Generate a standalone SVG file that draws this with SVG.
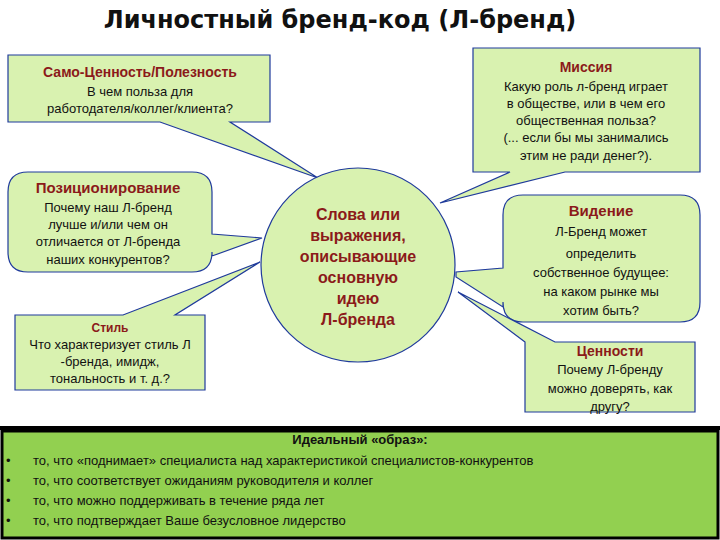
<svg xmlns="http://www.w3.org/2000/svg" width="720" height="540" viewBox="0 0 720 540">
<style>
.b{fill:#d9f2b0;stroke:#1f3a9c;stroke-width:1.2}
text{font-family:"Liberation Sans",Arial,sans-serif;fill:#111;text-anchor:middle}
.t{font-size:13px}
.h{font-weight:bold;fill:#8b1a1a;font-size:14px}
.c{font-weight:bold;fill:#8b1a1a;font-size:16px}
.l{text-anchor:start;font-size:13px}
</style>
<rect width="720" height="540" fill="#fff"/>
<text x="340" y="28" style="font-size:24px;font-weight:bold;font-family:'DejaVu Sans',sans-serif">Личностный бренд-код (Л-бренд)</text>
<g id="connectors"></g>
<g id="samo">
<path class="b" d="M8,55H270V122H230L318,178L160,122H8Z"/>
<text class="h" x="140" y="77">Само-Ценность/Полезность</text>
<text class="t" x="140" y="96">В чем польза для</text>
<text class="t" x="140" y="113">работодателя/коллег/клиента?</text>
</g>
<g id="mission">
<path class="b" d="M473,48H700V172H565L440,203L510,172H473Z"/>
<text class="h" x="586" y="72">Миссия</text>
<text class="t" x="586" y="91">Какую роль л-бренд играет</text>
<text class="t" x="586" y="108">в обществе, или в чем его</text>
<text class="t" x="586" y="125">общественная польза?</text>
<text class="t" x="586" y="142">(... если бы мы занимались</text>
<text class="t" x="586" y="160">этим не ради денег?).</text>
</g>
<g id="pos">
<path class="b" d="M28,172H192Q212,172 212,192V234L262,238L212,256V252Q212,272 192,272H28Q8,272 8,252V192Q8,172 28,172Z"/>
<text class="h" x="108" y="193" style="font-size:15px">Позиционирование</text>
<text class="t" x="108" y="212">Почему наш Л-бренд</text>
<text class="t" x="108" y="229">лучше и/или чем он</text>
<text class="t" x="108" y="246">отличается от Л-бренда</text>
<text class="t" x="108" y="264">наших конкурентов?</text>
</g>
<g id="style">
<path class="b" d="M15,315H123L260,262L175,315H205V390H15Z"/>
<text class="h" x="110" y="332" style="font-size:12px">Стиль</text>
<text class="t" x="110" y="349">Что характеризует стиль Л</text>
<text class="t" x="110" y="366">-бренда, имидж,</text>
<text class="t" x="110" y="383">тональность и т. д.?</text>
</g>
<g id="center">
<circle cx="358" cy="265" r="97" fill="#d9f2b0" stroke="#1f3a9c" stroke-width="1.2"/>
<text class="c" x="358" y="220">Слова или</text>
<text class="c" x="358" y="241">выражения,</text>
<text class="c" x="358" y="262">описывающие</text>
<text class="c" x="358" y="283">основную</text>
<text class="c" x="358" y="304">идею</text>
<text class="c" x="358" y="325">Л-бренда</text>
</g>
<g id="vision">
<path class="b" d="M523,195H680Q700,195 700,215V302Q700,322 680,322H523Q503,322 503,302V307L456,277V272L503,268V215Q503,195 523,195Z"/>
<text class="h" x="601" y="216" style="font-size:15px">Видение</text>
<text class="t" x="601" y="236">Л-Бренд может</text>
<text class="t" x="601" y="258">определить</text>
<text class="t" x="601" y="277">собственное будущее:</text>
<text class="t" x="601" y="296">на каком рынке мы</text>
<text class="t" x="601" y="315">хотим быть?</text>
</g>
<g id="values">
<path class="b" d="M525,342L458,292L555,342H695V412H525Z"/>
<text class="h" x="610" y="356">Ценности</text>
<text class="t" x="610" y="374">Почему Л-бренду</text>
<text class="t" x="610" y="393">можно доверять, как</text>
<text class="t" x="610" y="411">другу?</text>
</g>
<g id="ideal">
<rect x="2" y="431" width="716" height="107" fill="#92d050" stroke="#000" stroke-width="3"/>
<rect x="0" y="426" width="720" height="4" fill="#000"/>
<text x="360" y="444" style="font-size:13px;font-weight:bold">Идеальный «образ»:</text>
<text class="l" x="6" y="465">•</text><text class="l" x="33" y="465">то, что «поднимает» специалиста над характеристикой специалистов-конкурентов</text>
<text class="l" x="6" y="485">•</text><text class="l" x="33" y="485">то, что соответствует ожиданиям руководителя и коллег</text>
<text class="l" x="6" y="505">•</text><text class="l" x="33" y="505">то, что можно поддерживать в течение ряда лет</text>
<text class="l" x="6" y="525">•</text><text class="l" x="33" y="525">то, что подтверждает Ваше безусловное лидерство</text>
</g>
</svg>
